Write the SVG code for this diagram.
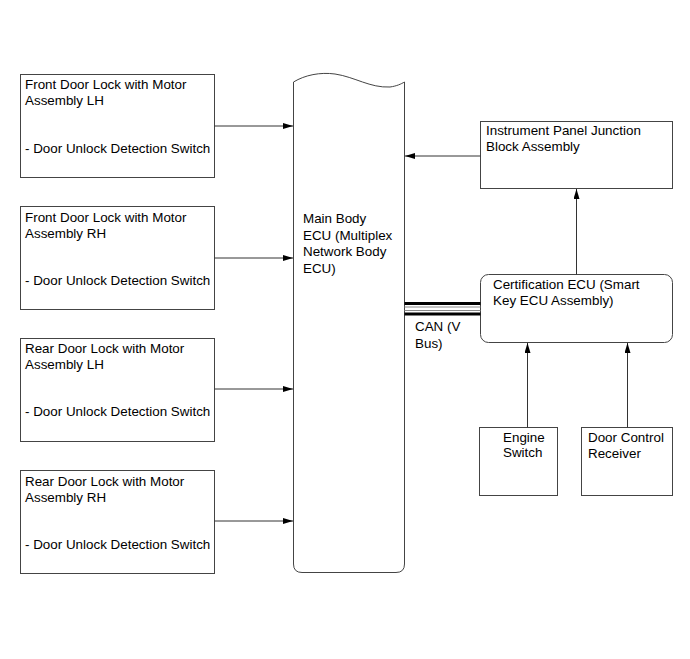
<svg xmlns="http://www.w3.org/2000/svg" width="690" height="659" viewBox="0 0 690 659">
<style>
.box{fill:#fff;stroke:#444;stroke-width:1}
.t{font-family:"Liberation Sans",Arial,sans-serif;font-size:13.4px;fill:#000}
.c{stroke:#333;stroke-width:1;fill:none}
</style>
<defs>
<marker id="ah" viewBox="0 0 10 6" refX="10" refY="3" markerWidth="10" markerHeight="6" markerUnits="userSpaceOnUse" orient="auto">
<path d="M0,0 L10,3 L0,6 z" fill="#000"/>
</marker>
</defs>
<rect width="690" height="659" fill="#fff"/>
<g id="front-lh">
<rect class="box" x="20.5" y="74.5" width="194" height="103"/>
<text class="t" x="25" y="89">Front Door Lock with Motor</text>
<text class="t" x="25" y="105">Assembly LH</text>
<text class="t" x="25" y="153">- Door Unlock Detection Switch</text>
</g>
<g id="front-rh">
<rect class="box" x="20.5" y="206.5" width="194" height="103"/>
<text class="t" x="25" y="222">Front Door Lock with Motor</text>
<text class="t" x="25" y="238">Assembly RH</text>
<text class="t" x="25" y="285">- Door Unlock Detection Switch</text>
</g>
<g id="rear-lh">
<rect class="box" x="20.5" y="338.5" width="194" height="103"/>
<text class="t" x="25" y="353">Rear Door Lock with Motor</text>
<text class="t" x="25" y="369">Assembly LH</text>
<text class="t" x="25" y="416">- Door Unlock Detection Switch</text>
</g>
<g id="rear-rh">
<rect class="box" x="20.5" y="470.5" width="194" height="103"/>
<text class="t" x="25" y="486">Rear Door Lock with Motor</text>
<text class="t" x="25" y="502">Assembly RH</text>
<text class="t" x="25" y="549">- Door Unlock Detection Switch</text>
</g>
<g id="main-ecu">
<path class="box" d="M293.5,82 C305,75 320,72 335,74 C355,77 370,88 390,87 C397,86 401,84 404.5,82 L404.5,564 Q404.5,572.5 396,572.5 L302,572.5 Q293.5,572.5 293.5,564 Z"/>
<text class="t" x="303" y="223">Main Body</text>
<text class="t" x="303" y="240">ECU (Multiplex</text>
<text class="t" x="303" y="256">Network Body</text>
<text class="t" x="303" y="273">ECU)</text>
</g>
<g id="ipjb">
<rect class="box" x="480.5" y="121.5" width="192" height="67"/>
<text class="t" x="486" y="135">Instrument Panel Junction</text>
<text class="t" x="486" y="151">Block Assembly</text>
</g>
<g id="cert-ecu">
<rect class="box" x="480.5" y="274.5" width="192" height="68" rx="8" ry="8"/>
<text class="t" x="493" y="289">Certification ECU (Smart</text>
<text class="t" x="493" y="305">Key ECU Assembly)</text>
</g>
<g id="engine-switch">
<rect class="box" x="479.5" y="427.5" width="78" height="68"/>
<text class="t" x="503" y="442">Engine</text>
<text class="t" x="503" y="457">Switch</text>
</g>
<g id="door-control">
<rect class="box" x="581.5" y="427.5" width="91" height="68"/>
<text class="t" x="588" y="442">Door Control</text>
<text class="t" x="588" y="458">Receiver</text>
</g>
<g id="connectors">
<line class="c" x1="214.5" y1="126" x2="293" y2="126" marker-end="url(#ah)"/>
<line class="c" x1="214.5" y1="258" x2="293" y2="258" marker-end="url(#ah)"/>
<line class="c" x1="214.5" y1="389" x2="293" y2="389" marker-end="url(#ah)"/>
<line class="c" x1="214.5" y1="521" x2="293" y2="521" marker-end="url(#ah)"/>
<line class="c" x1="480.5" y1="156" x2="405" y2="156" marker-end="url(#ah)"/>
<line class="c" x1="576.5" y1="274.5" x2="576.5" y2="189" marker-end="url(#ah)"/>
<line class="c" x1="527.5" y1="427.5" x2="527.5" y2="343" marker-end="url(#ah)"/>
<line class="c" x1="627.5" y1="427.5" x2="627.5" y2="343" marker-end="url(#ah)"/>
<g id="can-bus">
<line x1="404.5" y1="303.5" x2="480.5" y2="303.5" stroke="#000" stroke-width="3"/>
<line x1="404.5" y1="307" x2="480.5" y2="307" stroke="#888" stroke-width="1"/>
<line x1="404.5" y1="310.5" x2="480.5" y2="310.5" stroke="#888" stroke-width="1"/>
<line x1="404.5" y1="314" x2="480.5" y2="314" stroke="#000" stroke-width="3"/>
</g>
<text class="t" x="415" y="331">CAN (V</text>
<text class="t" x="415" y="348">Bus)</text>
</g>
</svg>
